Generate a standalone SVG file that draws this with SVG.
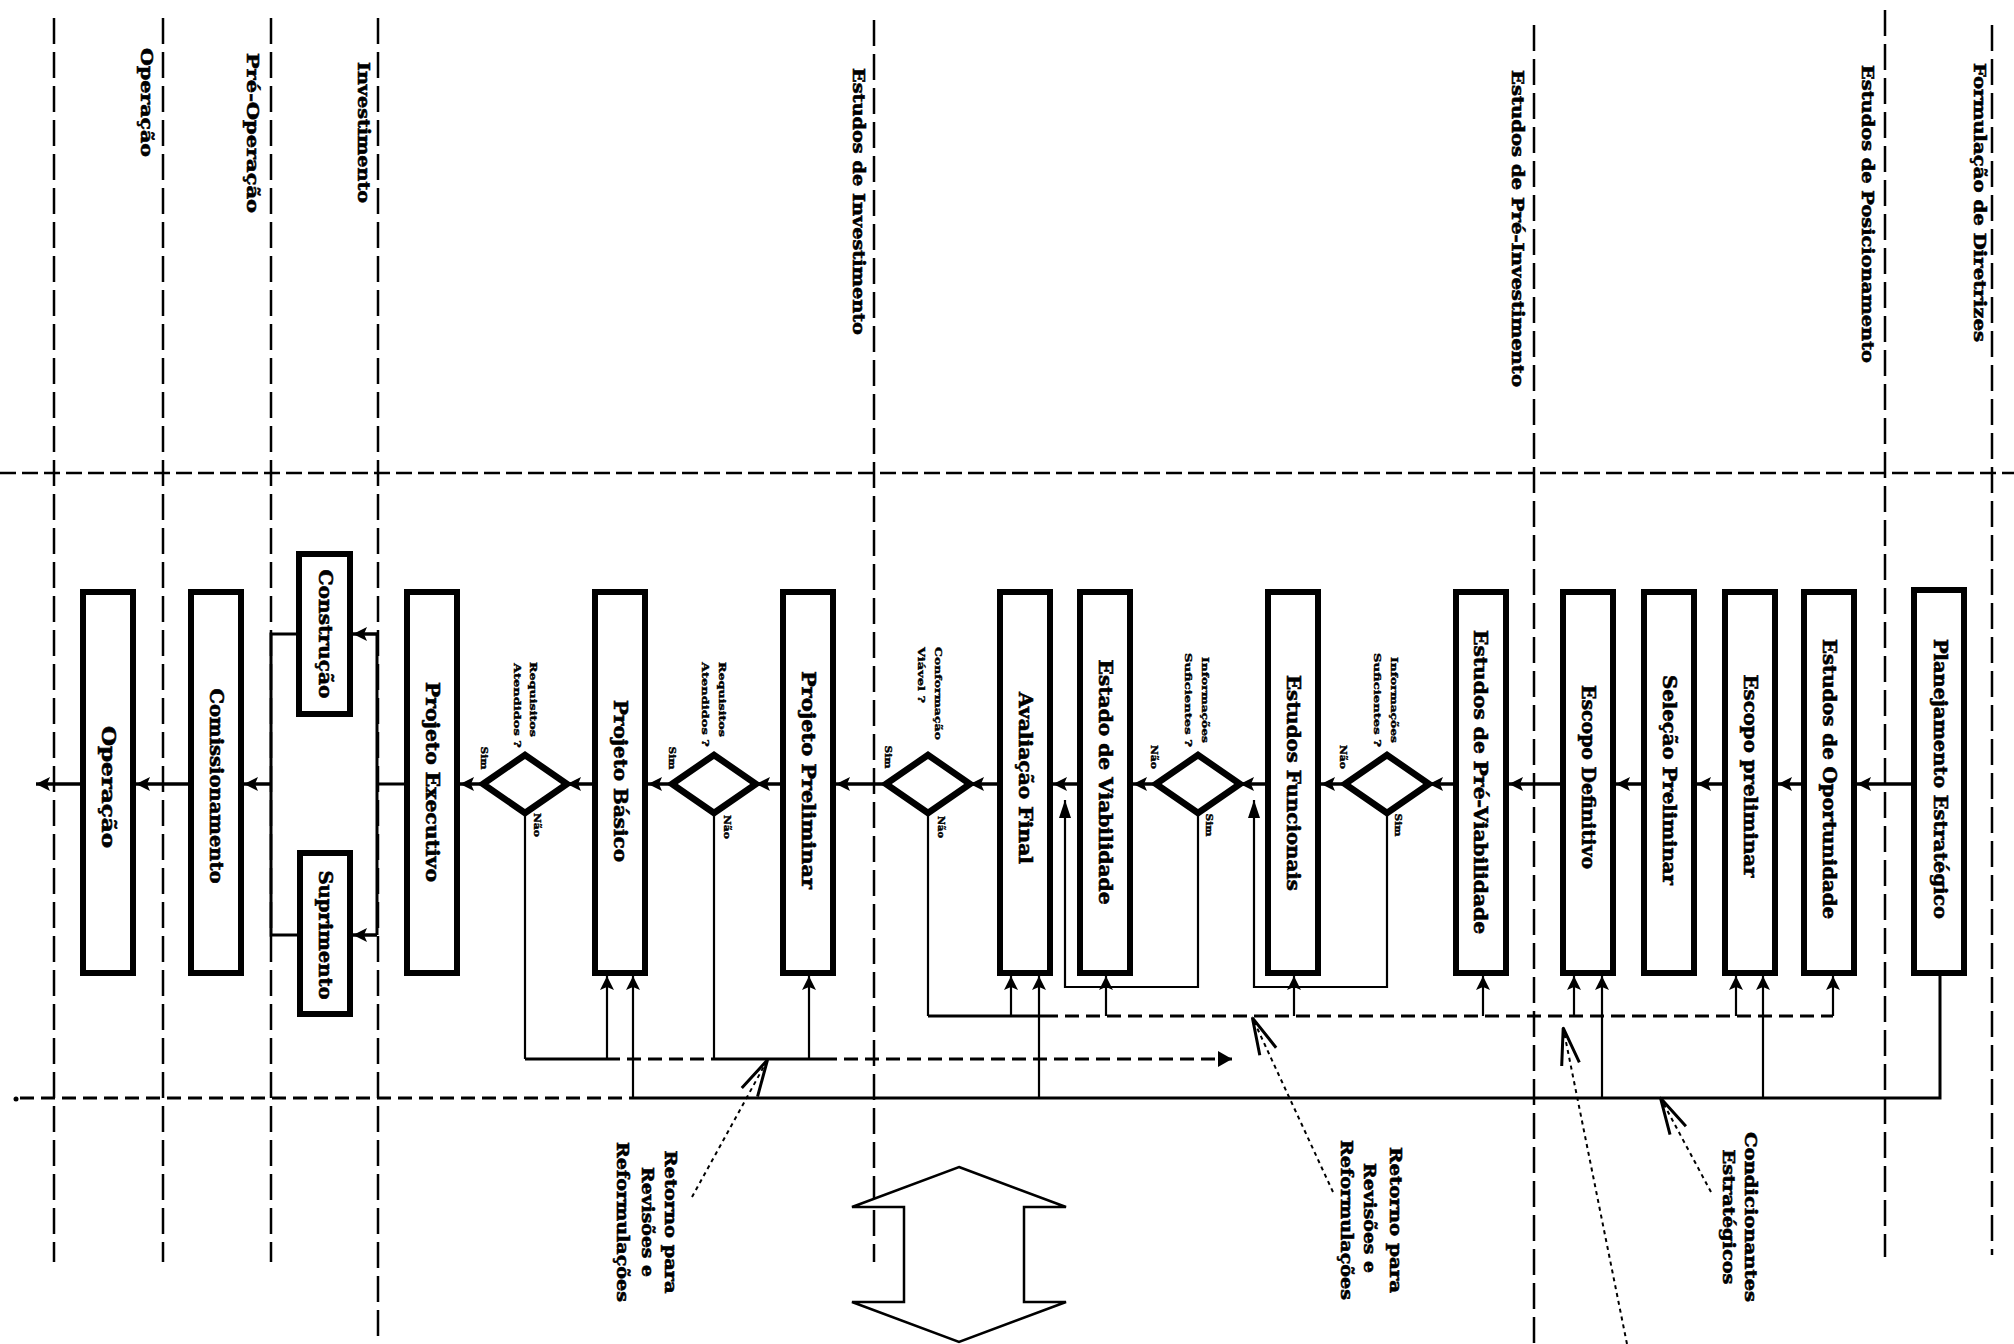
<svg xmlns="http://www.w3.org/2000/svg" width="2014" height="1344" viewBox="0 0 2014 1344">
<style>
text{font-family:"DejaVu Serif","Liberation Serif",serif;font-weight:bold;fill:#000;stroke:#000;stroke-width:0.6;text-anchor:middle;dominant-baseline:central}
.hdr{font-size:17px}
.lbl{font-size:18px}
.ann{font-size:16px}
.q{font-size:10px;stroke-width:0.4}
.yn{font-size:9px;stroke-width:0.4}
.box{fill:#fff;stroke:#000;stroke-width:6}
.dia{fill:#fff;stroke:#000;stroke-width:6.5;stroke-linejoin:miter}
.grid{fill:none;stroke:#000;stroke-width:2.5;stroke-dasharray:26 8}
.hgrid{fill:none;stroke:#000;stroke-width:2.5;stroke-dasharray:16 6}
.flow{fill:none;stroke:#000;stroke-width:3.5;marker-end:url(#ah)}
.thin{fill:none;stroke:#000;stroke-width:2.2}
.up{fill:none;stroke:#000;stroke-width:2.2;marker-end:url(#ah)}
.loop{fill:none;stroke:#000;stroke-width:2.2;marker-end:url(#ahb)}
.ret{fill:none;stroke:#000;stroke-width:3}
.retd{fill:none;stroke:#000;stroke-width:3;stroke-dasharray:14 7}
.lead{fill:none;stroke:#000;stroke-width:2;stroke-dasharray:4 4;marker-end:url(#vee)}
</style>
<defs>
<marker id="ah" viewBox="0 0 14 14" refX="14" refY="7" markerWidth="14" markerHeight="14" markerUnits="userSpaceOnUse" orient="auto"><path d="M0,0 L14,7 L0,14 L3,7 z" fill="#000"/></marker>
<marker id="ahb" viewBox="0 0 18 12" refX="18" refY="6" markerWidth="18" markerHeight="12" markerUnits="userSpaceOnUse" orient="auto"><path d="M0,0 L18,6 L0,12 z" fill="#000"/></marker>
<marker id="ahr" viewBox="0 0 14 16" refX="14" refY="8" markerWidth="14" markerHeight="16" markerUnits="userSpaceOnUse" orient="auto"><path d="M0,0 L14,8 L0,16 z" fill="#000"/></marker>
<marker id="vee" viewBox="0 0 40 22" refX="40" refY="11" markerWidth="40" markerHeight="22" markerUnits="userSpaceOnUse" orient="auto"><path d="M2,2 L39,11 L2,20" fill="none" stroke="#000" stroke-width="3"/></marker>
</defs>
<rect width="2014" height="1344" fill="#fff"/>

<g id="grid">
<path class="hgrid" d="M0,473 H2014"/>
<path class="grid" d="M54,18 V1262"/>
<path class="grid" d="M163,18 V1262"/>
<path class="grid" d="M271,18 V1262"/>
<path class="grid" d="M378,18 V1344"/>
<path class="grid" d="M874,20 V1262"/>
<path class="grid" d="M1534,25 V1344"/>
<path class="grid" d="M1885,10 V1257"/>
<path class="grid" d="M1992,25 V1255"/>
</g>

<g id="phase-labels">
<text class="hdr" transform="translate(147,102.5) rotate(90)" textLength="109" lengthAdjust="spacingAndGlyphs">Operação</text>
<text class="hdr" transform="translate(253,133) rotate(90)" textLength="160" lengthAdjust="spacingAndGlyphs">Pré-Operação</text>
<text class="hdr" transform="translate(364,132.5) rotate(90)" textLength="141" lengthAdjust="spacingAndGlyphs">Investimento</text>
<text class="hdr" transform="translate(859,201.5) rotate(90)" textLength="267" lengthAdjust="spacingAndGlyphs">Estudos de Investimento</text>
<text class="hdr" transform="translate(1518,228.5) rotate(90)" textLength="317" lengthAdjust="spacingAndGlyphs">Estudos de Pré-Investimento</text>
<text class="hdr" transform="translate(1868,214) rotate(90)" textLength="298" lengthAdjust="spacingAndGlyphs">Estudos de Posicionamento</text>
<text class="hdr" transform="translate(1980,202.5) rotate(90)" textLength="279" lengthAdjust="spacingAndGlyphs">Formulação de Diretrizes</text>
</g>

<g id="connectors">
<path class="flow" d="M80,784 H36"/>
<path class="flow" d="M188,784 H136"/>
<path class="flow" d="M271,784 H244"/>
<path class="thin" d="M296,634 H271 V935 H297" style="stroke-width:3"/>
<path class="thin" d="M404,784 H377 M377,634 V935" style="stroke-width:3"/>
<path class="flow" d="M377,634 H353"/>
<path class="flow" d="M377,935 H353"/>
<path class="flow" d="M483,784 H460"/>
<path class="flow" d="M592,784 H567"/>
<path class="flow" d="M672,784 H648"/>
<path class="flow" d="M780,784 H756"/>
<path class="flow" d="M886,784 H836"/>
<path class="flow" d="M997,784 H970"/>
<path class="flow" d="M1077,784 H1053"/>
<path class="flow" d="M1156,784 H1133"/>
<path class="flow" d="M1265,784 H1240"/>
<path class="flow" d="M1345,784 H1321"/>
<path class="flow" d="M1453,784 H1429"/>
<path class="flow" d="M1560,784 H1509"/>
<path class="flow" d="M1641,784 H1616"/>
<path class="flow" d="M1722,784 H1697"/>
<path class="flow" d="M1801,784 H1778"/>
<path class="flow" d="M1911,784 H1857"/>

<path class="up" d="M607,1059 V976"/>
<path class="up" d="M633,1098 V976"/>
<path class="up" d="M809,1059 V976"/>
<path class="up" d="M1011,1016 V976"/>
<path class="up" d="M1039,1098 V976"/>
<path class="up" d="M1106,1016 V976"/>
<path class="up" d="M1294,1016 V976"/>
<path class="up" d="M1483,1016 V976"/>
<path class="up" d="M1574,1016 V976"/>
<path class="up" d="M1602,1098 V976"/>
<path class="up" d="M1736,1016 V976"/>
<path class="up" d="M1763,1098 V976"/>
<path class="up" d="M1833,1016 V976"/>

<path class="thin" d="M525,813 V1059"/>
<path class="thin" d="M714,813 V1059"/>
<path class="thin" d="M928,813 V1016"/>
<path class="loop" d="M1198,813 V987 H1065 V800"/>
<path class="loop" d="M1387,813 V987 H1254 V800"/>

<path class="ret" d="M525,1059 H606 M714,1059 H823"/>
<path class="retd" d="M606,1059 H714"/>
<path class="retd" d="M823,1059 H1232" style="marker-end:url(#ahr)"/>
<path class="ret" d="M928,1016 H1044"/>
<path class="retd" d="M1044,1016 H1833"/>
<path class="ret" d="M1940,976 V1098 H633"/>
<path class="retd" d="M20,1098 H633"/>
<circle cx="16" cy="1099" r="2.5" fill="#000"/>

<path class="lead" d="M692,1197 L768,1059"/>
<path class="lead" d="M1333,1192 L1252,1017"/>
<path class="lead" d="M1711,1192 L1660,1097"/>
<path class="lead" d="M1627,1344 L1563,1027"/>
</g>

<g id="n-operacao"><rect class="box" x="83" y="592" width="50" height="381"/><text class="lbl" transform="translate(108,787) rotate(90)" textLength="122" lengthAdjust="spacingAndGlyphs">Operação</text></g>
<g id="n-comissionamento"><rect class="box" x="191" y="592" width="50" height="381"/><text class="lbl" transform="translate(216,786) rotate(90)" textLength="195" lengthAdjust="spacingAndGlyphs">Comissionamento</text></g>
<g id="n-construcao"><rect class="box" x="299" y="554" width="51" height="160"/><text class="lbl" transform="translate(325,634) rotate(90)" textLength="129" lengthAdjust="spacingAndGlyphs">Construção</text></g>
<g id="n-suprimento"><rect class="box" x="300" y="853" width="50" height="161"/><text class="lbl" transform="translate(325,935) rotate(90)" textLength="129" lengthAdjust="spacingAndGlyphs">Suprimento</text></g>
<g id="n-projeto-executivo"><rect class="box" x="407" y="592" width="50" height="381"/><text class="lbl" transform="translate(432,782) rotate(90)" textLength="200" lengthAdjust="spacingAndGlyphs">Projeto Executivo</text></g>
<g id="n-projeto-basico"><rect class="box" x="595" y="592" width="50" height="381"/><text class="lbl" transform="translate(620,781) rotate(90)" textLength="162" lengthAdjust="spacingAndGlyphs">Projeto Básico</text></g>
<g id="n-projeto-preliminar"><rect class="box" x="783" y="592" width="50" height="381"/><text class="lbl" transform="translate(808,780) rotate(90)" textLength="218" lengthAdjust="spacingAndGlyphs">Projeto  Preliminar</text></g>
<g id="n-avaliacao-final"><rect class="box" x="1000" y="592" width="50" height="381"/><text class="lbl" transform="translate(1025,778) rotate(90)" textLength="172" lengthAdjust="spacingAndGlyphs">Avaliação Final</text></g>
<g id="n-estado-viabilidade"><rect class="box" x="1080" y="592" width="50" height="381"/><text class="lbl" transform="translate(1105,782) rotate(90)" textLength="245" lengthAdjust="spacingAndGlyphs">Estado de Viabilidade</text></g>
<g id="n-estudos-funcionais"><rect class="box" x="1268" y="592" width="50" height="381"/><text class="lbl" transform="translate(1293,783) rotate(90)" textLength="216" lengthAdjust="spacingAndGlyphs">Estudos Funcionais</text></g>
<g id="n-pre-viabilidade"><rect class="box" x="1456" y="592" width="50" height="381"/><text class="lbl" transform="translate(1480,782) rotate(90)" textLength="304" lengthAdjust="spacingAndGlyphs">Estudos de Pré-Viabilidade</text></g>
<g id="n-escopo-definitivo"><rect class="box" x="1563" y="592" width="50" height="381"/><text class="lbl" transform="translate(1588,777) rotate(90)" textLength="184" lengthAdjust="spacingAndGlyphs">Escopo Definitivo</text></g>
<g id="n-selecao-preliminar"><rect class="box" x="1644" y="592" width="50" height="381"/><text class="lbl" transform="translate(1669,780) rotate(90)" textLength="210" lengthAdjust="spacingAndGlyphs">Seleção Preliminar</text></g>
<g id="n-escopo-preliminar"><rect class="box" x="1725" y="592" width="50" height="381"/><text class="lbl" transform="translate(1750,776) rotate(90)" textLength="203" lengthAdjust="spacingAndGlyphs">Escopo preliminar</text></g>
<g id="n-oportunidade"><rect class="box" x="1804" y="592" width="50" height="381"/><text class="lbl" transform="translate(1829,779) rotate(90)" textLength="280" lengthAdjust="spacingAndGlyphs">Estudos de Oportunidade</text></g>
<g id="n-planejamento"><rect class="box" x="1914" y="590" width="50" height="383"/><text class="lbl" transform="translate(1940,779) rotate(90)" textLength="280" lengthAdjust="spacingAndGlyphs">Planejamento Estratégico</text></g>

<g id="d1"><polygon class="dia" points="483,784 525,755 567,784 525,813"/>
<text class="q" transform="translate(533,699.5) rotate(90)" textLength="75" lengthAdjust="spacingAndGlyphs">Requisitos</text>
<text class="q" transform="translate(517,705.5) rotate(90)" textLength="85" lengthAdjust="spacingAndGlyphs">Atendidos ?</text>
<text class="yn" transform="translate(484,758) rotate(90)" textLength="23" lengthAdjust="spacingAndGlyphs">Sim</text>
<text class="yn" transform="translate(537,825) rotate(90)" textLength="24" lengthAdjust="spacingAndGlyphs">Não</text></g>
<g id="d2"><polygon class="dia" points="672,784 714,755 756,784 714,813"/>
<text class="q" transform="translate(722,699.5) rotate(90)" textLength="75" lengthAdjust="spacingAndGlyphs">Requisitos</text>
<text class="q" transform="translate(705,704.5) rotate(90)" textLength="85" lengthAdjust="spacingAndGlyphs">Atendidos ?</text>
<text class="yn" transform="translate(672,758) rotate(90)" textLength="23" lengthAdjust="spacingAndGlyphs">Sim</text>
<text class="yn" transform="translate(727,827) rotate(90)" textLength="24" lengthAdjust="spacingAndGlyphs">Não</text></g>
<g id="d3"><polygon class="dia" points="886,784 928,755 970,784 928,813"/>
<text class="q" transform="translate(938,693.5) rotate(90)" textLength="93" lengthAdjust="spacingAndGlyphs">Conformação</text>
<text class="q" transform="translate(921,675) rotate(90)" textLength="56" lengthAdjust="spacingAndGlyphs">Viável ?</text>
<text class="yn" transform="translate(888,757) rotate(90)" textLength="23" lengthAdjust="spacingAndGlyphs">Sim</text>
<text class="yn" transform="translate(941,827) rotate(90)" textLength="22" lengthAdjust="spacingAndGlyphs">Não</text></g>
<g id="d4"><polygon class="dia" points="1156,784 1198,755 1240,784 1198,813"/>
<text class="q" transform="translate(1205,700) rotate(90)" textLength="86" lengthAdjust="spacingAndGlyphs">Informações</text>
<text class="q" transform="translate(1188,700) rotate(90)" textLength="94" lengthAdjust="spacingAndGlyphs">Suficientes ?</text>
<text class="yn" transform="translate(1154,757) rotate(90)" textLength="24" lengthAdjust="spacingAndGlyphs">Não</text>
<text class="yn" transform="translate(1209,825) rotate(90)" textLength="23" lengthAdjust="spacingAndGlyphs">Sim</text></g>
<g id="d5"><polygon class="dia" points="1345,784 1387,755 1429,784 1387,813"/>
<text class="q" transform="translate(1394,700) rotate(90)" textLength="86" lengthAdjust="spacingAndGlyphs">Informações</text>
<text class="q" transform="translate(1377,700) rotate(90)" textLength="94" lengthAdjust="spacingAndGlyphs">Suficientes ?</text>
<text class="yn" transform="translate(1343,757) rotate(90)" textLength="24" lengthAdjust="spacingAndGlyphs">Não</text>
<text class="yn" transform="translate(1398,825) rotate(90)" textLength="23" lengthAdjust="spacingAndGlyphs">Sim</text></g>

<g id="annotations">
<text class="ann" transform="translate(670,1222) rotate(90)" textLength="143" lengthAdjust="spacingAndGlyphs">Retorno para</text>
<text class="ann" transform="translate(647,1222) rotate(90)" textLength="110" lengthAdjust="spacingAndGlyphs">Revisões e</text>
<text class="ann" transform="translate(622,1222) rotate(90)" textLength="160" lengthAdjust="spacingAndGlyphs">Reformulações</text>
<text class="ann" transform="translate(1395,1220) rotate(90)" textLength="146" lengthAdjust="spacingAndGlyphs">Retorno para</text>
<text class="ann" transform="translate(1369,1218) rotate(90)" textLength="110" lengthAdjust="spacingAndGlyphs">Revisões e</text>
<text class="ann" transform="translate(1346,1220) rotate(90)" textLength="160" lengthAdjust="spacingAndGlyphs">Reformulações</text>
<text class="ann" transform="translate(1750,1217) rotate(90)" textLength="170" lengthAdjust="spacingAndGlyphs">Condicionantes</text>
<text class="ann" transform="translate(1728,1217) rotate(90)" textLength="135" lengthAdjust="spacingAndGlyphs">Estratégicos</text>
</g>

<g id="double-arrow">
<polygon points="959,1167 1066,1207 1024,1207 1024,1302 1066,1302 959,1342 852,1302 904,1302 904,1207 852,1207" fill="#fff" stroke="#000" stroke-width="2.5" stroke-linejoin="miter"/>
</g>
</svg>
